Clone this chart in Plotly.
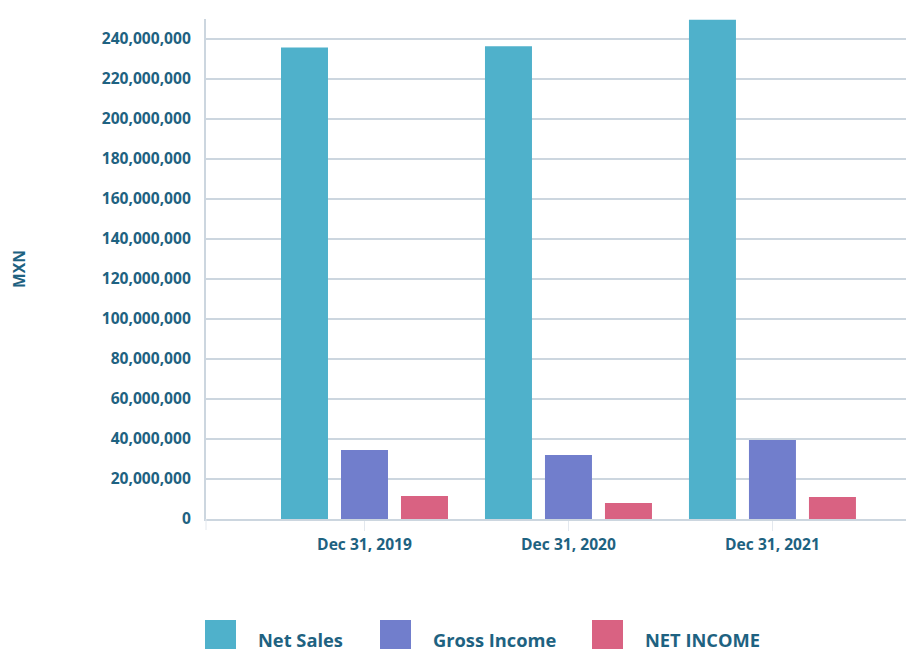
import plotly.graph_objects as go

categories = ["Dec 31, 2019", "Dec 31, 2020", "Dec 31, 2021"]
series_names = ["Net Sales", "Gross Income", "NET INCOME"]
net_sales = [235800000, 236400000, 249600000]
gross_income = [34500000, 32000000, 39500000]
net_income = [11500000, 8000000, 11000000]
colors = ["#4fb1cb", "#717ecc", "#d96282"]

y_ticks = list(range(0, 240000001, 20000000))
y_tick_text = [f"{v:,}" for v in y_ticks]

TEXT = "#1e6281"
GRID = "#ccd6df"
FONT = "Open Sans"
FS = 15.6

# page has an 8px body margin, so the figure is 8px smaller on each axis
W, H = 906, 641
ML, MR, MT, MB = 198, 1, 11, 130
PW = W - ML - MR

fig = go.Figure()
for name, vals, col in zip(series_names, [net_sales, gross_income, net_income], colors):
    fig.add_trace(go.Bar(x=categories, y=vals, name=name, marker_color=col,
                         marker_line_width=0, showlegend=False))

fig.update_layout(
    width=W, height=H,
    margin=dict(l=ML, r=MR, t=MT, b=MB, autoexpand=False),
    paper_bgcolor="white", plot_bgcolor="white",
    barmode="group", bargap=0.1176, bargroupgap=0.2167,
    font=dict(family=FONT, color=TEXT, size=FS),
)
fig.update_xaxes(
    type="category", range=[-0.777, 2.689],
    showline=True, linecolor=GRID, linewidth=2,
    ticks="outside", ticklen=10, tickwidth=1, tickcolor="#e3e8ee",
    showgrid=False, zeroline=False,
    tickfont=dict(family=FONT, size=FS, color=TEXT, weight="bold"),
)
fig.update_yaxes(
    range=[0, 250000000], tickvals=y_ticks, ticktext=y_tick_text,
    showgrid=True, gridcolor=GRID, gridwidth=2,
    showline=True, linecolor=GRID, linewidth=2,
    zeroline=False, ticks="", ticklabelstandoff=10,
    tickfont=dict(family=FONT, size=FS, color=TEXT, weight="bold"),
    title=dict(text="MXN", standoff=80,
               font=dict(family=FONT, size=FS, color=TEXT, weight="bold")),
)

# faint tick continuing the y-axis line below the plot
fig.add_shape(type="line", xref="paper", yref="paper", x0=0, x1=0,
              ysizemode="pixel", yanchor=0, y0=0, y1=-11,
              line=dict(color="#e3e8ee", width=1))

# custom legend (large square swatches); positions in figure pixels
sw_px = [197, 372, 584]
for i, name in enumerate(series_names):
    x0 = (sw_px[i] - ML) / PW
    fig.add_shape(type="rect", xref="paper", yref="paper",
                  xsizemode="pixel", ysizemode="pixel",
                  xanchor=x0, yanchor=0,
                  x0=0, x1=31, y0=-101, y1=-135,
                  fillcolor=colors[i], line_width=0)
    fig.add_annotation(xref="paper", yref="paper", x=x0, y=0,
                       xshift=51, yshift=-120,
                       xanchor="left", yanchor="middle", showarrow=False,
                       text=name,
                       font=dict(family=FONT, size=18.3, color=TEXT, weight="bold"))

fig.write_html("out.html")
